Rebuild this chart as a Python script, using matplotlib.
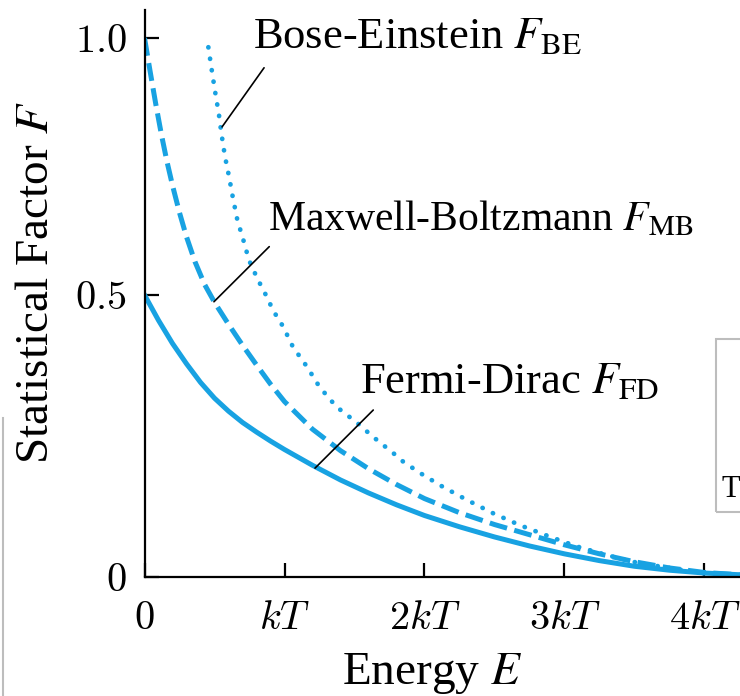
import numpy as np
import matplotlib
matplotlib.use("Agg")
import matplotlib.pyplot as plt
from matplotlib.patches import Rectangle
from matplotlib.lines import Line2D

# values, energy in units of kT
fd_E = [0.0, 0.1, 0.2, 0.3, 0.4, 0.5, 0.6, 0.7, 0.8, 0.9, 1.0, 1.2, 1.4, 1.6, 1.8, 2.0,
        2.25, 2.5, 2.75, 3.0, 3.25, 3.5, 3.75, 4.0, 4.25]
fd_F = [0.500, 0.455, 0.414, 0.378, 0.345, 0.317, 0.294, 0.274, 0.257, 0.241, 0.226, 0.198,
        0.172, 0.149, 0.128, 0.109, 0.089, 0.071, 0.055, 0.041, 0.029, 0.019, 0.012, 0.007, 0.004]

mb_E = [0.0, 0.04, 0.08, 0.12, 0.16, 0.20, 0.25, 0.30, 0.36, 0.43, 0.50, 0.60, 0.70, 0.80,
        0.90, 1.0, 1.2, 1.4, 1.6, 1.8, 2.0, 2.25, 2.5, 2.75, 3.0, 3.25, 3.5, 3.75, 4.0, 4.25]
mb_F = [1.000, 0.935, 0.872, 0.813, 0.760, 0.713, 0.660, 0.613, 0.565, 0.520, 0.487, 0.448,
        0.411, 0.376, 0.342, 0.311, 0.262, 0.224, 0.192, 0.164, 0.139, 0.114, 0.093, 0.075,
        0.057, 0.041, 0.027, 0.016, 0.008, 0.004]

be_E = [0.456, 0.48, 0.504, 0.532, 0.551, 0.575, 0.604, 0.630, 0.663, 0.706, 0.746, 0.806, 0.873,
        0.92, 0.99, 1.06, 1.16, 1.25, 1.37, 1.52, 1.63, 1.78, 1.85, 1.99, 2.13, 2.30, 2.49, 2.68,
        2.90, 3.09, 3.30, 3.54, 3.78, 3.97, 4.15]
be_F = [0.982, 0.938, 0.896, 0.850, 0.811, 0.769, 0.730, 0.691, 0.646, 0.607, 0.568, 0.532, 0.497,
        0.472, 0.444, 0.408, 0.373, 0.337, 0.302, 0.273, 0.249, 0.219, 0.204, 0.181, 0.160, 0.137,
        0.113, 0.092, 0.071, 0.054, 0.039, 0.024, 0.015, 0.007, 0.004]

xtick_vals = [0, 1, 2, 3, 4]
xtick_labels = ['$0$', '$kT$', '$2kT$', '$3kT$', '$4kT$']
ytick_vals = [0, 0.5, 1.0]
ytick_labels = ['$0$', '$0.5$', '$1.0$']

blue = '#18a2e2'

plt.rcParams['font.family'] = 'Liberation Serif'
plt.rcParams['mathtext.fontset'] = 'cm'

fig = plt.figure(figsize=(7.4, 6.96), dpi=100)
ax = fig.add_axes([0.1953, 0.171, 0.8047, 0.8147])

# printed axis is not uniform: 0-0.5 is drawn longer than 0.5-1.0
knots_v = [-1.0, 0.0, 0.5, 1.0, 2.0]
knots_p = [-564.0, 0.0, 282.0, 539.0, 1053.0]

def fwd(v):
    return np.interp(v, knots_v, knots_p)

def inv(p):
    return np.interp(p, knots_p, knots_v)

ax.set_yscale('function', functions=(fwd, inv))

ax.plot(fd_E, fd_F, color=blue, lw=3.6, solid_joinstyle='round')
ax.plot(mb_E, mb_F, color=blue, lw=3.6, linestyle=(0, (3.6, 1.5)))
ax.plot(be_E, be_F, color=blue, lw=3.4, linestyle=(0, (0.05, 2.4)), dash_capstyle='round')

ax.set_xlim(0, 4.254)
ax.set_ylim(0, 1.0545)
ax.set_xticks(xtick_vals)
ax.set_xticklabels(xtick_labels)
ax.set_yticks(ytick_vals)
ax.set_yticklabels(ytick_labels)
ax.minorticks_off()
ax.tick_params(direction='in', length=10, width=1.6, labelsize=29)
ax.tick_params(axis='x', pad=17)
ax.tick_params(axis='y', pad=13)
for s in ['top', 'right']:
    ax.spines[s].set_visible(False)
for s in ['left', 'bottom']:
    ax.spines[s].set_linewidth(1.6)

ax.set_xlabel('Energy $E$', fontsize=34, math_fontfamily='stix')
ax.xaxis.set_label_coords(0.483, -0.131)
ax.set_ylabel('Statistical Factor $F$', fontsize=34, math_fontfamily='stix')
ax.yaxis.set_label_coords(-0.146, 0.519)

# curve labels with leader lines
ax.text(0.775, 0.980, r'Bose-Einstein $F_{\mathrm{BE}}$', fontsize=32,
        math_fontfamily='stix', va='baseline')
ax.annotate('', xy=(0.554, 0.827), xytext=(0.854, 0.942),
            arrowprops=dict(arrowstyle='-', lw=1.2, color='black', shrinkA=0, shrinkB=0))

ax.text(0.884, 0.626, r'Maxwell-Boltzmann $F_{\mathrm{MB}}$', fontsize=30,
        math_fontfamily='stix', va='baseline')
ax.annotate('', xy=(0.496, 0.488), xytext=(0.891, 0.594),
            arrowprops=dict(arrowstyle='-', lw=1.2, color='black', shrinkA=0, shrinkB=0))

ax.text(1.539, 0.326, r'Fermi-Dirac $F_{\mathrm{FD}}$', fontsize=32,
        math_fontfamily='stix', va='baseline')
ax.annotate('', xy=(1.218, 0.193), xytext=(1.634, 0.296),
            arrowprops=dict(arrowstyle='-', lw=1.2, color='black', shrinkA=0, shrinkB=0))

# bits of neighbouring page content at the edges of the screenshot
fig.add_artist(Rectangle((716 / 740, 1 - 512 / 696), 40 / 740, 173 / 696,
                         transform=fig.transFigure, fill=False,
                         edgecolor='#bdbdbd', lw=1.5))
fig.text(721 / 740, 1 - 497 / 696, 'T', fontsize=22, va='baseline')
fig.add_artist(Line2D([3 / 740, 3 / 740], [0, 1 - 418 / 696],
                      transform=fig.transFigure, color='#bdbdbd', lw=1.5))

fig.savefig('out.png', dpi=100)
